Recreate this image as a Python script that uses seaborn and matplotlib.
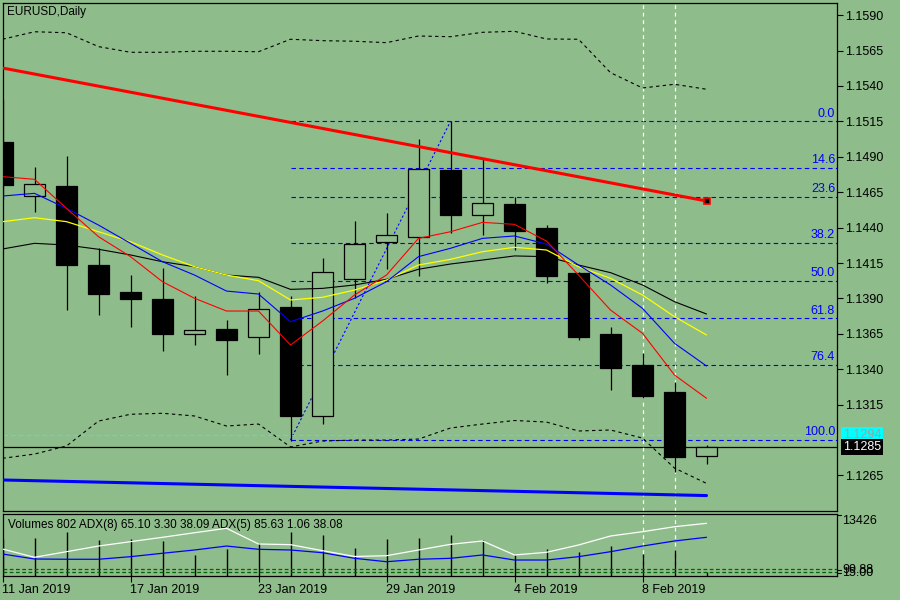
import matplotlib
matplotlib.use('Agg')
import matplotlib.pyplot as plt
import matplotlib.transforms as mtransforms
import numpy as np
import pandas as pd
import seaborn as sns

# bars, 11 Jan 2019 .. 12 Feb 2019 (daily)
bar_dates = ['11 Jan', '14 Jan', '15 Jan', '16 Jan', '17 Jan', '18 Jan', '21 Jan', '22 Jan',
             '23 Jan', '24 Jan', '25 Jan', '28 Jan', '29 Jan', '30 Jan', '31 Jan', '1 Feb',
             '4 Feb', '5 Feb', '6 Feb', '7 Feb', '8 Feb', '11 Feb', '12 Feb']
opens = [1.15005, 1.14621, 1.14694, 1.14136, 1.13945, 1.13896, 1.13647, 1.13684, 1.13625, 1.13839,
         1.13067, 1.14035, 1.14296, 1.14332, 1.14807, 1.14487, 1.14567, 1.14397, 1.14080, 1.13649,
         1.13430, 1.13239, 1.12785]
highs = [1.15300, 1.14828, 1.14906, 1.14254, 1.14065, 1.14115, 1.13915, 1.13748, 1.13943, 1.13917,
         1.14185, 1.14447, 1.14503, 1.15026, 1.15150, 1.14882, 1.14614, 1.14418, 1.14090, 1.13698,
         1.13514, 1.13310, 1.12865]
lows = [1.14600, 1.14512, 1.13820, 1.13785, 1.13700, 1.13531, 1.13573, 1.13359, 1.13507, 1.12895,
        1.13015, 1.13901, 1.14110, 1.14060, 1.14364, 1.14348, 1.14242, 1.14011, 1.13608, 1.13255,
        1.13200, 1.12676, 1.12733]
closes = [1.14700, 1.14706, 1.14138, 1.13933, 1.13898, 1.13651, 1.13677, 1.13608, 1.13823, 1.13072,
          1.14084, 1.14284, 1.14346, 1.14812, 1.14491, 1.14572, 1.14378, 1.14060, 1.13630, 1.13411,
          1.13213, 1.12778, 1.12853]

ma_red = [1.14760, 1.14741, 1.14536, 1.14336, 1.14195, 1.14018, 1.13901, 1.13811, 1.13811, 1.13571,
          1.13740, 1.13924, 1.14065, 1.14324, 1.14371, 1.14437, 1.14423, 1.14305, 1.14065, 1.13818,
          1.13654, 1.13359, 1.13195]
ma_blue = [1.14623, 1.14642, 1.14536, 1.14418, 1.14289, 1.14159, 1.14065, 1.13952, 1.13931, 1.13736,
           1.13811, 1.13901, 1.14018, 1.14195, 1.14254, 1.14324, 1.14341, 1.14284, 1.14136, 1.13995,
           1.13830, 1.13583, 1.13423]
ma_yellow = [1.14442, 1.14470, 1.14442, 1.14371, 1.14300, 1.14207, 1.14124, 1.14065, 1.14025, 1.13889,
             1.13908, 1.13959, 1.14030, 1.14136, 1.14176, 1.14230, 1.14261, 1.14242, 1.14124, 1.14042,
             1.13924, 1.13771, 1.13642]
ma_black = [1.14249, 1.14289, 1.14277, 1.14247, 1.14207, 1.14159, 1.14124, 1.14065, 1.14049, 1.13964,
            1.13971, 1.13995, 1.14035, 1.14106, 1.14143, 1.14171, 1.14200, 1.14195, 1.14136, 1.14082,
            1.13995, 1.13877, 1.13790]
band_upper = [1.15730, 1.15783, 1.15776, 1.15678, 1.15638, 1.15638, 1.15645, 1.15645, 1.15642, 1.15730,
              1.15720, 1.15716, 1.15706, 1.15753, 1.15748, 1.15779, 1.15786, 1.15732, 1.15730, 1.15494,
              1.15386, 1.15412, 1.15377]
band_lower = [1.12771, 1.12801, 1.12858, 1.13034, 1.13082, 1.13089, 1.13070, 1.12999, 1.13013, 1.12851,
              1.12893, 1.12900, 1.12900, 1.12907, 1.12985, 1.13013, 1.13038, 1.13027, 1.12964, 1.12971,
              1.12914, 1.12702, 1.12594]
ma_long = [1.12618, 1.12613, 1.12608, 1.12603, 1.12598, 1.12593, 1.12588, 1.12583, 1.12578, 1.12573,
           1.12568, 1.12563, 1.12558, 1.12553, 1.12548, 1.12543, 1.12538, 1.12533, 1.12528, 1.12523,
           1.12518, 1.12513, 1.12508]

volumes = [8000, 8164, 9593, 7796, 7947, 7579, 4548, 5847, 7081, 9593, 8879, 5998, 8012, 8164, 8879,
           7796, 4548, 5847, 5132, 6496, 4764, 5630, 802]
adx5 = [47.9, 35.8, 44.0, 52.3, 58.7, 65.1, 71.8, 78.3, 55.3, 54.3, 45.5, 37.0, 38.1, 46.5, 54.8,
        59.7, 39.2, 43.1, 53.8, 67.0, 73.3, 80.6, 85.6]
adx8 = [40.6, 33.3, 32.9, 32.9, 36.7, 41.7, 46.5, 52.3, 47.5, 46.5, 42.5, 34.3, 29.3, 32.9, 34.3,
        39.2, 31.8, 31.8, 36.7, 44.0, 52.3, 59.7, 65.1]
adx_levels = [18.2, 14.2]

fib_levels = [0.0, 14.6, 23.6, 38.2, 50.0, 61.8, 76.4, 100.0]
fib_high = 1.15150   # 31 Jan
fib_low = 1.12900    # 24 Jan
fib_high_bar = 14
fib_low_bar = 9

trend_bars = [0, 22]
trend_prices = [1.15527, 1.14588]

bid_price = 1.12851
line_price = 1.12935
vline_bars = [20, 21]

price_ticks = [1.1265, 1.1315, 1.1340, 1.1365, 1.1390, 1.1415, 1.1440, 1.1465,
               1.1490, 1.1515, 1.1540, 1.1565, 1.1590]
date_tick_bars = [0, 4, 8, 12, 16, 20]
date_tick_labels = ['11 Jan 2019', '17 Jan 2019', '23 Jan 2019', '29 Jan 2019',
                    '4 Feb 2019', '8 Feb 2019']

bg = '#8fbc8b'
sns.set_style('white', rc={'axes.facecolor': bg, 'figure.facecolor': bg,
                           'axes.edgecolor': 'black'})
plt.rcParams['font.family'] = ['Liberation Sans', 'DejaVu Sans']
plt.rcParams['font.size'] = 8.5

df = pd.DataFrame({'bar': np.arange(len(bar_dates)), 'open': opens, 'high': highs,
                   'low': lows, 'close': closes, 'red': ma_red, 'blue': ma_blue,
                   'yellow': ma_yellow, 'black': ma_black, 'upper': band_upper,
                   'lower': band_lower, 'long': ma_long, 'vol': volumes,
                   'adx5': adx5, 'adx8': adx8})

fig = plt.figure(figsize=(9, 6), dpi=100)
W, H = 900.0, 600.0
x_left = 2.5
x_right = 837
ax = fig.add_axes([x_left / W, 1 - 511 / H, (x_right - x_left) / W, (511 - 3) / H])
axv = fig.add_axes([x_left / W, 1 - 576 / H, (x_right - x_left) / W, (576 - 514) / H])
xmax = (x_right - x_left) / 32.0

for a in (ax, axv):
    a.set_xlim(0, xmax)
    for s in a.spines.values():
        s.set_linewidth(0.9)
        s.set_color('black')

ax.set_ylim(1.12399, 1.15986)

# fibonacci retracement
fib_rng = fib_high - fib_low
for lvl in fib_levels:
    price = fib_high - fib_rng * lvl / 100.0
    ax.hlines(price, fib_low_bar, xmax, colors='#0000ff', linestyles=(0, (4, 3)),
              linewidth=0.8, zorder=1)
    ax.text(xmax - 0.06, price + 0.00012, f'{lvl:.1f}', color='#0000ff', ha='right',
            va='bottom', fontsize=9, zorder=6)
ax.plot([fib_low_bar, fib_high_bar], [fib_low, fib_high], color='#0000ff',
        linestyle=(0, (2, 2)), linewidth=0.8, zorder=1)

# horizontal price lines
ax.axhline(line_price, color='#00ffff', linestyle=(0, (4, 3)), linewidth=0.8, zorder=1)
ax.axhline(bid_price, color='black', linewidth=0.9, zorder=1)

# vertical marker lines
for a in (ax, axv):
    for vb in vline_bars:
        a.axvline(vb, color='white', linestyle=(0, (3, 3)), linewidth=0.9, zorder=1)

# candles
bull = df['close'] >= df['open']
ax.vlines(df['bar'], df['low'], df['high'], color='black', linewidth=0.9, zorder=2)
ax.bar(df['bar'], (df['close'] - df['open']).abs(), bottom=df[['open', 'close']].min(axis=1),
       width=0.66, color=np.where(bull, bg, 'black'), edgecolor='black', linewidth=0.9, zorder=3)

# indicators
sns.lineplot(data=df, x='bar', y='upper', ax=ax, color='black', linewidth=0.8,
             linestyle=(0, (3, 3)), zorder=4)
sns.lineplot(data=df, x='bar', y='lower', ax=ax, color='black', linewidth=0.8,
             linestyle=(0, (3, 3)), zorder=4)
sns.lineplot(data=df, x='bar', y='long', ax=ax, color='#0000ff', linewidth=2.2, zorder=4)
sns.lineplot(data=df, x='bar', y='black', ax=ax, color='black', linewidth=0.8, zorder=4)
sns.lineplot(data=df, x='bar', y='yellow', ax=ax, color='#ffff00', linewidth=0.9, zorder=4)
sns.lineplot(data=df, x='bar', y='blue', ax=ax, color='#0000ff', linewidth=0.8, zorder=4)
sns.lineplot(data=df, x='bar', y='red', ax=ax, color='#ff0000', linewidth=0.8, zorder=4)

# trend line
ax.plot(trend_bars, trend_prices, color='#ff0000', linewidth=2.2, zorder=5,
        solid_capstyle='butt')
ax.plot(trend_bars[-1:], trend_prices[-1:], marker='s', markersize=5, color='black',
        markeredgecolor='#ff0000', markeredgewidth=1.2, zorder=6)

ax.set_xlabel('')
ax.set_ylabel('')
ax.set_xticks([])
ax.yaxis.tick_right()
ax.set_yticks(price_ticks)
ax.set_yticklabels([f'{t:.4f}' for t in price_ticks])
ax.tick_params(axis='y', direction='out', length=4, width=0.8, pad=2, colors='black',
               labelsize=9)

trans = mtransforms.blended_transform_factory(ax.transAxes, ax.transData)
ax.text(1.0 + 6 / 834.5, line_price, f'{line_price:.4f}', transform=trans, color='#a0a0a0',
        ha='left', va='center', fontsize=9,
        bbox=dict(boxstyle='square,pad=0.15', facecolor='#00ffff', edgecolor='none'))
ax.text(1.0 + 6 / 834.5, bid_price, f'{bid_price:.4f}', transform=trans, color='white',
        ha='left', va='center', fontsize=9,
        bbox=dict(boxstyle='square,pad=0.15', facecolor='black', edgecolor='none'))
ax.text(5 / 834.5, 1 - 9 / 508, 'EURUSD,Daily', transform=ax.transAxes, ha='left',
        va='center', fontsize=8.5, color='black')

# volume / ADX panel
axv.set_ylim(0, 13426)
axv.vlines(df['bar'], 0, df['vol'], color='black', linewidth=1.0, zorder=3)
axa = axv.twinx()
axa.set_ylim(8.37, 99.26)
axa.set_xlim(0, xmax)
axa.set_yticks([])
for lvl in adx_levels:
    axa.axhline(lvl, color='#006400', linestyle=(0, (3, 2)), linewidth=0.9, zorder=2)
sns.lineplot(data=df, x='bar', y='adx8', ax=axa, color='#0000ff', linewidth=0.9, zorder=4)
sns.lineplot(data=df, x='bar', y='adx5', ax=axa, color='white', linewidth=0.9, zorder=4)
axa.set_ylabel('')
axa.set_xlabel('')
for s in axa.spines.values():
    s.set_visible(False)

axv.set_xlabel('')
axv.set_ylabel('')
axv.set_yticks([])
axv.set_xticks(date_tick_bars)
axv.set_xticklabels(date_tick_labels)
for lab in axv.get_xticklabels():
    lab.set_horizontalalignment('left')
axv.tick_params(axis='x', direction='out', length=4, width=0.8, pad=2, colors='black',
                labelsize=9, bottom=True)

axv.text(5 / 834.5, 1 - 11 / 62, 'Volumes 802 ADX(8) 65.10 3.30 38.09 ADX(5) 85.63 1.06 38.08',
         transform=axv.transAxes, ha='left', va='center', fontsize=8.5, color='black')
axv.text(1.0 + 5 / 834.5, 1 - 7 / 62, '13426', transform=axv.transAxes, ha='left',
         va='center', fontsize=9, color='black')
axv.text(1.0 + 5 / 834.5, 1 - 56 / 62, '99.88', transform=axv.transAxes, ha='left',
         va='center', fontsize=9, color='black')
axv.text(1.0 + 5 / 834.5, 1 - 59 / 62, '15.00', transform=axv.transAxes, ha='left',
         va='center', fontsize=9, color='black')
for yy in (0.99, 1 - 56 / 62, 1 - 59 / 62):
    axv.plot([1.0, 1.0 + 4 / 834.5], [yy, yy], transform=axv.transAxes, color='black',
             linewidth=0.8, clip_on=False)

fig.savefig('out.png', dpi=100, facecolor=bg)
